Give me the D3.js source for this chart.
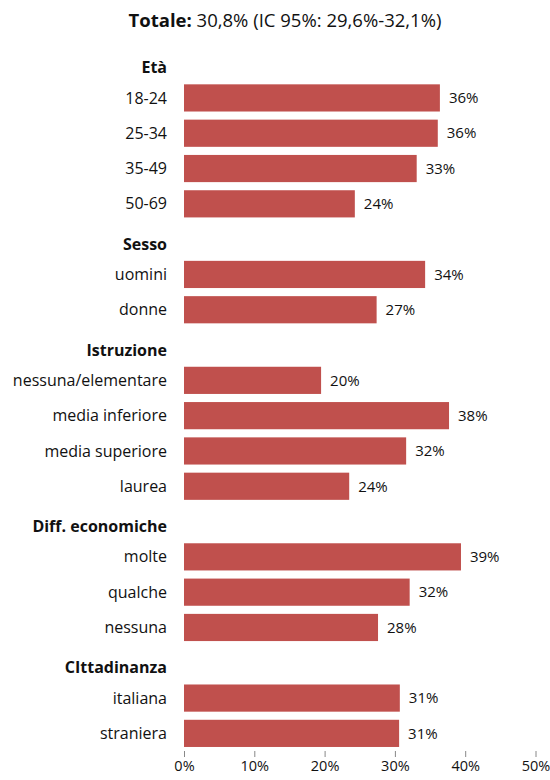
<!DOCTYPE html>
<html>
<head>
<meta charset="UTF-8">
<title>Totale</title>
<script src="https://cdn.jsdelivr.net/npm/d3@7"></script>
<style>
    body { margin: 0; background: #fff; }
    text { font-family: "Open Sans", "Noto Sans", sans-serif; fill: #111; }
    .group { font-weight: bold; }
</style>
</head>
<body>
<div id="chart"></div>
<script>
    // righe del grafico: intestazioni di gruppo e categorie
    const groups = ["Età", "Sesso", "Istruzione", "Diff. economiche", "CIttadinanza"];
    const categories = [
        ["18-24", "25-34", "35-49", "50-69"],
        ["uomini", "donne"],
        ["nessuna/elementare", "media inferiore", "media superiore", "laurea"],
        ["molte", "qualche", "nessuna"],
        ["italiana", "straniera"]
    ];
    const values = [
        [36.4, 36.1, 33.1, 24.3],
        [34.3, 27.4],
        [19.5, 37.7, 31.6, 23.5],
        [39.4, 32.1, 27.6],
        [30.7, 30.6]
    ];
    const ticks = [0, 10, 20, 30, 40, 50];

    const width = 550, height = 780;
    const left = 184, right = 535.5;

    // build flat rows list, header rows have no value
    let rows = [];
    groups.forEach((g, i) => {
        rows.push({id: "h" + i, label: g, header: true});
        categories[i].forEach((c, j) => {
            rows.push({id: i + "-" + j, label: c, value: values[i][j]});
        });
    });

    const svg = d3.select("#chart").append("svg")
        .attr("width", width)
        .attr("height", height);

    const x = d3.scaleLinear().domain([0, 50]).range([left, right]);
    const y = d3.scaleBand()
        .domain(rows.map(d => d.id))
        .range([45.5, 750.5])
        .paddingInner(0.23)
        .paddingOuter(0.1);

    svg.append("text")
        .attr("x", 285)
        .attr("y", 27)
        .attr("text-anchor", "middle")
        .style("font-size", "18.5px")
        .call(t => {
            t.append("tspan").attr("font-weight", "bold").text("Totale:");
            t.append("tspan").text(" 30,8% (IC 95%: 29,6%-32,1%)");
        });

    svg.selectAll(".bar")
        .data(rows.filter(d => !d.header))
        .join("rect")
        .attr("class", "bar")
        .attr("x", x(0))
        .attr("y", d => y(d.id))
        .attr("width", d => x(d.value) - x(0))
        .attr("height", y.bandwidth())
        .attr("fill", "#C0504D");

    svg.selectAll(".val")
        .data(rows.filter(d => !d.header))
        .join("text")
        .attr("class", "val")
        .attr("x", d => x(d.value) + 9)
        .attr("y", d => y(d.id) + y.bandwidth() / 2)
        .attr("dy", "0.35em")
        .style("font-size", "15px")
        .text(d => Math.round(d.value) + "%");

    svg.selectAll(".lab")
        .data(rows)
        .join("text")
        .attr("class", d => d.header ? "lab group" : "lab")
        .attr("x", 167)
        .attr("y", d => y(d.id) + y.bandwidth() / 2 + (d.header ? 5 : 0))
        .attr("dy", "0.35em")
        .attr("text-anchor", "end")
        .style("font-size", "16px")
        .text(d => d.label);

    const axis = svg.append("g")
        .attr("transform", "translate(0,751)")
        .call(d3.axisBottom(x).tickValues(ticks).tickSize(6).tickFormat(d => d + "%"));
    axis.select(".domain").remove();
    axis.selectAll(".tick line").attr("stroke", "#888");
    axis.selectAll(".tick text")
        .attr("y", 10)
        .style("font-size", "14.5px")
        .style("font-family", "'Open Sans', sans-serif")
        .attr("fill", "#111");
</script>
</body>
</html>
